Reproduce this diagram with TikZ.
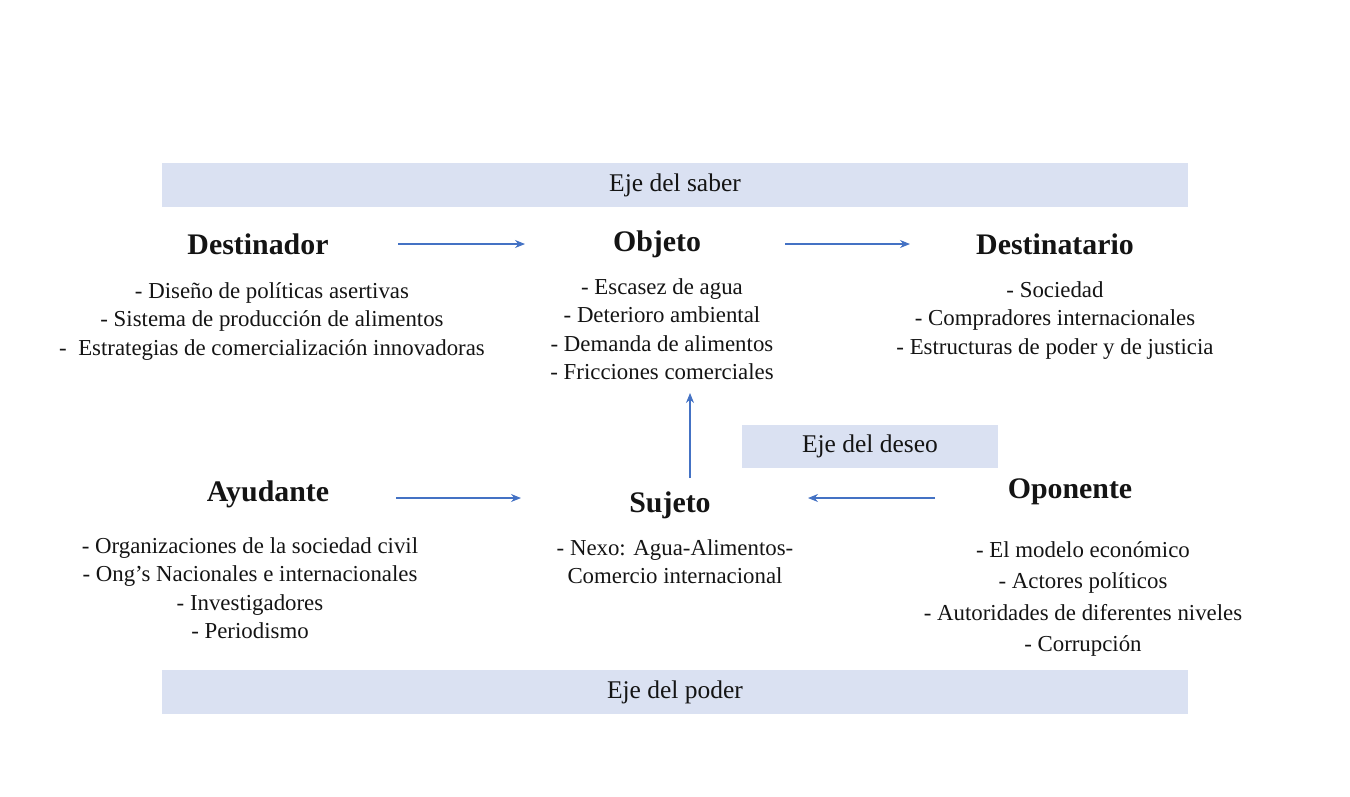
\documentclass[tikz,border=0pt]{standalone}
\usepackage{fontspec}
\setmainfont{Liberation Serif}
\usetikzlibrary{arrows.meta, positioning}
\definecolor{bandlav}{RGB}{218, 225, 242}
\definecolor{arrowblue}{RGB}{68, 114, 196}
\definecolor{textdark}{RGB}{20, 20, 20}

\begin{document}
\begin{tikzpicture}[
    x=0.02cm, y=-0.02cm,
    band/.style={rectangle, fill=bandlav, inner sep=0pt, font=\fontsize{14.5}{16}\selectfont, text=textdark},
    head/.style={font=\fontsize{17}{20}\bfseries\selectfont, text=textdark},
    items/.style={align=center, font=\fontsize{13}{16.3}\selectfont, text=textdark},
    arrow/.style={-{Stealth[length=2mm, width=1.6mm]}, color=arrowblue, line width=0.6pt},
]
\useasboundingbox (0,0) rectangle (1350,796);

% Bands
\node[band, minimum width=1026*0.02cm, minimum height=44*0.02cm] (saber) at (675,185) {Eje del saber};
\node[band, minimum width=1026*0.02cm, minimum height=44*0.02cm] (poder) at (675,692) {Eje del poder};
\node[band, minimum width=256*0.02cm, minimum height=43*0.02cm] (deseo) at (870,446) {Eje del deseo};

% Headings
\node[head] (destinador) at (258,244) {Destinador};
\node[head] (objeto) at (657,244) {Objeto};
\node[head] (destinatario) at (1055,244) {Destinatario};
\node[head] (ayudante) at (268,494) {Ayudante};
\node[head] (sujeto) at (670,505) {Sujeto};
\node[head] (oponente) at (1070,492) {Oponente};

% Lists
\node[items, anchor=north] (ldestinador) at (272,276) {- Diseño de políticas asertivas\\- Sistema de producción de alimentos\\-\ \ Estrategias de comercialización innovadoras};
\node[items, anchor=north] (lobjeto) at (662,272) {- Escasez de agua\\- Deterioro ambiental\\- Demanda de alimentos\\- Fricciones comerciales};
\node[items, anchor=north] (ldestinatario) at (1055,275) {- Sociedad\\- Compradores internacionales\\- Estructuras de poder y de justicia};
\node[items, anchor=north] (layudante) at (250,531) {- Organizaciones de la sociedad civil\\- Ong’s Nacionales e internacionales\\- Investigadores\\- Periodismo};
\node[items, anchor=north] (lsujeto) at (675,533) {- Nexo: Agua-Alimentos-\\Comercio internacional};
\node[items, anchor=north, font=\fontsize{13}{18}\selectfont] (loponente) at (1083,535) {- El modelo económico\\- Actores políticos\\- Autoridades de diferentes niveles\\- Corrupción};

% Arrow ends
\coordinate (a1) at (398,244); \coordinate (b1) at (525,244);
\coordinate (a2) at (785,244); \coordinate (b2) at (910,244);
\coordinate (a3) at (396,498); \coordinate (b3) at (521,498);
\coordinate (a4) at (935,498); \coordinate (b4) at (808,498);
\coordinate (a5) at (690,478); \coordinate (b5) at (690,393);

% Arrows
\draw[arrow] (a1) -- (b1);
\draw[arrow] (a2) -- (b2);
\draw[arrow] (a3) -- (b3);
\draw[arrow] (a4) -- (b4);
\draw[arrow] (a5) -- (b5);

\end{tikzpicture}
\end{document}
